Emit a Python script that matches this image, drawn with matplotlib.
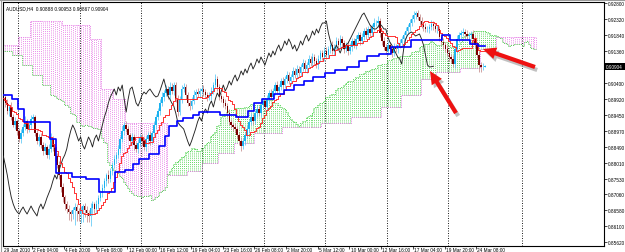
import numpy as np
import pandas as pd
import matplotlib
matplotlib.use("Agg")
import matplotlib.pyplot as plt
from matplotlib.patches import FancyArrow, Rectangle

# ---------------- data (prices in pips, 1 pip = 0.0001) ----------------
title_text = "AUDUSD,H4  0.90888 0.90953 0.90867 0.90904"
last_close = 0.90904

date_labels = ["29 Jan 2010", "2 Feb 04:00", "4 Feb 20:00", "9 Feb 08:00", "12 Feb 00:00",
               "16 Feb 12:00", "19 Feb 04:00", "23 Feb 16:00", "26 Feb 08:00", "2 Mar 20:00",
               "5 Mar 12:00", "10 Mar 00:00", "12 Mar 16:00", "17 Mar 04:00", "19 Mar 20:00",
               "24 Mar 08:00"]
date_label_bars = [0, 15, 31, 47, 63, 79, 95, 111, 127, 143, 159, 175, 191, 207, 223, 239]
grid_bars = [7.5, 38.5, 69.5, 100.5, 131.5, 162.5, 193.5, 224.5, 261.5]

price_ticks = [0.92800, 0.92320, 0.91840, 0.91360, 0.90880, 0.90400, 0.89920, 0.89450,
               0.88970, 0.88490, 0.88010, 0.87530, 0.87060, 0.86580, 0.86100, 0.85620]
hidden_tick = 0.90880  # covered by the current-price box

first_open = 8992
close_pips = [
    8998, 8980, 8956, 8968, 8938, 8914, 8926, 8896, 8872, 8890,
    8908, 8926, 8902, 8914, 8932, 8938, 8890, 8866, 8878, 8854,
    8836, 8848, 8824, 8842, 8872, 8848, 8821, 8794, 8764, 8728,
    8698, 8677, 8662, 8653, 8647, 8659, 8668, 8656, 8647, 8659,
    8671, 8659, 8650, 8641, 8665, 8677, 8662, 8677, 8695, 8710,
    8725, 8746, 8764, 8752, 8776, 8794, 8812, 8824, 8842, 8872,
    8896, 8914, 8902, 8884, 8866, 8878, 8854, 8842, 8860, 8878,
    8866, 8848, 8872, 8884, 8866, 8890, 8914, 8938, 8956, 8980,
    8998, 9010, 9022, 9004, 9028, 9016, 9034, 8992, 8953, 8992,
    9022, 9028, 9004, 8980, 8971, 8986, 9004, 9013, 9007, 9016,
    9022, 9013, 9004, 8998, 9001, 9016, 9034, 9052, 9028, 9001,
    8992, 8980, 8971, 8950, 8923, 8914, 8908, 8902, 8884, 8866,
    8851, 8866, 8884, 8902, 8923, 8938, 8926, 8950, 8962, 8950,
    8974, 8986, 8968, 8992, 9010, 8998, 9016, 9034, 9016, 9028,
    9046, 9034, 9052, 9064, 9046, 9058, 9076, 9064, 9082, 9070,
    9088, 9100, 9082, 9094, 9112, 9100, 9118, 9106, 9094, 9112,
    9130, 9118, 9136, 9124, 9142, 9154, 9136, 9148, 9166, 9154,
    9172, 9160, 9142, 9154, 9136, 9148, 9166, 9154, 9172, 9184,
    9166, 9178, 9196, 9184, 9202, 9190, 9208, 9220, 9220, 9226,
    9190, 9166, 9148, 9136, 9154, 9142, 9130, 9148, 9142, 9154,
    9160, 9172, 9184, 9196, 9208, 9220, 9232, 9244, 9250, 9238,
    9226, 9214, 9208, 9202, 9202, 9208, 9217, 9211, 9202, 9202,
    9178, 9163, 9154, 9142, 9130, 9118, 9112, 9097, 9142, 9172,
    9184, 9190, 9193, 9187, 9181, 9184, 9187, 9172, 9154, 9124,
    9094, 9088, 9088.8, 9090.4]

upper_wick_pips = [
    10, 8, 12, 6, 14, 9, 11, 7, 10, 12, 8, 14, 6, 10, 12, 9, 7, 11, 8, 13,
    9, 12, 7, 15, 18, 8, 10, 9, 12, 8, 11, 7, 9, 13, 6, 10, 12, 8, 9, 11,
    7, 10, 12, 8, 14, 9, 6, 11, 10, 8, 12, 9, 7, 14, 10, 8, 11, 9, 13, 10,
    14, 8, 11, 9, 7, 12, 10, 8, 13, 9, 10, 12, 8, 9, 11, 7, 13, 10, 9, 12,
    14, 10, 12, 8, 15, 11, 9, 10, 12, 8, 11, 13, 9, 10, 8, 12, 14, 9, 11, 10,
    8, 12, 10, 9, 13, 11, 10, 14, 9, 8, 10, 9, 12, 8, 11, 10, 7, 12, 9, 10,
    11, 8, 10, 13, 9, 12, 10, 8, 11, 9, 12, 10, 9, 11, 8, 13, 10, 9, 12, 8,
    10, 11, 9, 12, 8, 10, 13, 9, 11, 10, 9, 12, 10, 8, 11, 9, 13, 10, 8, 12,
    10, 9, 11, 13, 8, 10, 12, 9, 11, 10, 12, 8, 10, 9, 13, 11, 8, 10, 12, 9,
    10, 12, 9, 11, 8, 12, 10, 14, 9, 15, 9, 10, 12, 8, 11, 10, 9, 13, 8, 10,
    11, 9, 10, 12, 9, 13, 11, 12, 6, 9, 10, 12, 8, 11, 9, 10, 12, 8, 9, 11,
    10, 9, 12, 8, 11, 10, 9, 12, 10, 11, 9, 10, 12, 8, 11, 10, 9, 12, 8, 10,
    11, 9, 10, 4.9]

lower_wick_pips = [
    9, 12, 8, 14, 10, 7, 13, 11, 9, 12, 10, 8, 13, 9, 11, 12, 8, 10, 14, 9,
    12, 10, 8, 13, 9, 11, 14, 10, 12, 15, 14, 18, 12, 25, 20, 16, 45, 30, 22, 28,
    35, 20, 26, 18, 30, 22, 15, 12, 14, 10, 12, 9, 14, 11, 10, 13, 9, 12, 10, 11,
    9, 12, 10, 13, 11, 9, 14, 10, 12, 9, 11, 10, 13, 9, 12, 10, 8, 11, 9, 12,
    10, 12, 9, 11, 13, 10, 12, 9, 11, 10, 12, 9, 11, 10, 13, 9, 10, 12, 8, 11,
    10, 12, 9, 11, 10, 13, 9, 10, 12, 11, 9, 11, 10, 12, 9, 10, 13, 11, 10, 12,
    14, 10, 12, 9, 11, 10, 12, 9, 11, 10, 12, 10, 9, 11, 13, 10, 9, 12, 10, 11,
    10, 12, 9, 11, 10, 12, 9, 10, 11, 13, 9, 11, 10, 12, 9, 10, 13, 11, 10, 12,
    10, 9, 12, 11, 10, 13, 9, 11, 10, 12, 11, 10, 12, 9, 11, 10, 13, 9, 11, 10,
    12, 10, 9, 11, 10, 12, 9, 11, 10, 12, 11, 13, 10, 9, 12, 10, 11, 9, 10, 12,
    10, 12, 9, 11, 10, 12, 10, 9, 11, 10, 12, 10, 11, 9, 10, 12, 9, 11, 10, 12,
    11, 10, 12, 9, 10, 11, 12, 10, 13, 11, 10, 12, 9, 11, 10, 12, 10, 11, 9, 10,
    22, 14, 10, 2.1]

# Kijun-sen: (start bar, level in pips)
kijun_steps = [(0, 9004), (5, 8992), (8, 8962), (11, 8923), (24, 8872), (27, 8770),
               (35, 8758), (42, 8752), (49, 8713), (57, 8773), (62, 8779), (66, 8797),
               (69, 8812), (74, 8827), (79, 8851), (82, 8881), (84, 8911), (88, 8926),
               (91, 8935), (96, 8944), (99, 8953), (110, 8944), (118, 8938), (124, 8956),
               (127, 8980), (131, 8992), (137, 9007), (142, 9019), (147, 9034),
               (152, 9046), (157, 9058), (163, 9070), (168, 9079), (174, 9088),
               (180, 9106), (184, 9121), (190, 9127), (196, 9148), (206, 9169),
               (222, 9184), (226, 9169), (236, 9157), (240, 9151)]

# Senkou span A before the first bar that has 26 bars of history on screen
senkou_a_early_steps = [(0, 9136), (5, 9124), (10, 9094), (15, 9064), (20, 9034), (24, 9004)]
# Senkou span B (displaced 26 bars forward)
senkou_b_steps = [(0, 9154), (8, 9178), (14, 9226), (30, 9214), (44, 9172), (50, 9022),
                  (56, 8992), (62, 8920), (83, 8764), (93, 8776), (101, 8800), (109, 8830),
                  (117, 8860), (127, 8890), (141, 8908), (161, 8920), (176, 8938),
                  (191, 8968), (201, 9004), (211, 9052), (219, 9073), (231, 9085),
                  (241, 9142), (249, 9178)]
shift = 26

# ---------------- derived series ----------------
close = np.array(close_pips, dtype=float) / 1e4
opens = np.r_[first_open / 1e4, close[:-1]]
high = np.maximum(opens, close) + np.array(upper_wick_pips) / 1e4
low = np.minimum(opens, close) - np.array(lower_wick_pips) / 1e4
n = len(close)
bars = np.arange(n)
cloud_end_bar = n - 1 + shift


def expand(steps, end):
    out = np.empty(end + 1)
    for k, (s, v) in enumerate(steps):
        e = steps[k + 1][0] if k + 1 < len(steps) else end + 1
        out[s:e] = v / 1e4
    return out


hs, ls = pd.Series(high), pd.Series(low)
tenkan = ((hs.rolling(9, min_periods=1).max() + ls.rolling(9, min_periods=1).min()) / 2).values
kijun = expand(kijun_steps, n - 1)

span_a = np.empty(cloud_end_bar + 1)
span_a[:shift] = expand(senkou_a_early_steps, shift - 1)
span_a[shift:] = (tenkan + kijun) / 2
span_b = expand(senkou_b_steps, cloud_end_bar)
cb = np.arange(cloud_end_bar + 1)

# ---------------- figure ----------------
W, H = 625, 253
fig = plt.figure(figsize=(W / 100, H / 100), dpi=100)
fig.patch.set_facecolor("white")
ax = fig.add_axes([3 / W, 6 / H, 601 / W, 244 / H])
ax.set_facecolor("white")
ax.set_xlim(-0.15, 303.07)
ax.set_ylim(0.8551, 0.9283)

fam = ["Liberation Sans", "DejaVu Sans"]
fs = 3.4

# vertical dotted grid
for g in grid_bars:
    ax.axvline(g, color="#000000", lw=0.6, ls=(0, (1.2, 1.8)), zorder=0.5)

# cloud as dotted histogram
up = span_a >= span_b
ax.vlines(cb[up], span_b[up], span_a[up], colors="#33CC33", lw=0.55,
          linestyles=(0, (1.2, 1.6)), zorder=1)
ax.vlines(cb[~up], span_a[~up], span_b[~up], colors="#E266E2", lw=0.55,
          linestyles=(0, (1.2, 1.6)), zorder=1)
ax.step(cb, span_a, where="mid", color="#33CC33", lw=0.6, ls=(0, (1, 1.2)), zorder=1.2)
ax.step(cb, span_b, where="mid", color="#E266E2", lw=0.6, ls=(0, (1, 1.2)), zorder=1.2)

# candles
bull = close >= opens
ax.vlines(bars[bull], low[bull], high[bull], colors="#5BC8F5", lw=0.55, zorder=2)
ax.vlines(bars[~bull], low[~bull], high[~bull], colors="#C48A8A", lw=0.55, zorder=2)
body_lo = np.minimum(opens, close)
body_h = np.maximum(np.abs(close - opens), 0.00012)
ax.bar(bars[bull], body_h[bull], bottom=body_lo[bull], width=0.75,
       color="#1AB2F0", linewidth=0, zorder=2.5)
ax.bar(bars[~bull], body_h[~bull], bottom=body_lo[~bull], width=0.75,
       color="#7A0000", linewidth=0, zorder=2.5)

# Ichimoku lines
ax.plot(bars[shift:] - shift, close[shift:], color="#222222", lw=0.65, zorder=3)
ax.step(bars, tenkan, where="mid", color="#FF2222", lw=0.65, zorder=3.2)
ax.step(bars, kijun, where="mid", color="#0000FF", lw=1.2, zorder=3.4)

# axes styling
for s in ax.spines.values():
    s.set_color("#000000")
    s.set_linewidth(0.8)
ax.yaxis.tick_right()
ax.set_yticks(price_ticks)
ax.set_yticklabels(["" if p == hidden_tick else f"{p:.5f}" for p in price_ticks],
                   fontsize=fs, fontfamily=fam)
ax.tick_params(axis="y", length=2, width=0.5, pad=0.8, colors="#000000")
ax.set_xticks([b - 0.4 for b in date_label_bars[1:]])
ax.set_xticklabels([])
ax.tick_params(axis="x", length=2, width=0.5, direction="out")
for lab, b in zip(date_labels, date_label_bars):
    ax.text(b + 0.2, -0.006, lab, transform=ax.get_xaxis_transform(), fontsize=fs,
            fontfamily=fam, ha="left", va="top", color="#000000", clip_on=False)
ax.text(1.2, 0.9265, title_text, fontsize=fs, fontfamily=fam, ha="left", va="center",
        color="#000000", zorder=5)

# ---------------- overlay in pixel coordinates ----------------
ov = fig.add_axes([0, 0, 1, 1])
ov.set_xlim(0, W)
ov.set_ylim(H, 0)
ov.axis("off")
ov.patch.set_alpha(0)

ov.plot([0.5, 0.5], [0, H], color="#9A9A9A", lw=0.8)
ov.plot([0, W], [0.5, 0.5], color="#9A9A9A", lw=0.8)

py = 3 + (0.9283 - last_close) / (0.9283 - 0.8551) * 244
ov.add_patch(Rectangle((604.5, py - 3.4), 20.5, 6.8, facecolor="#000000", edgecolor="none", zorder=6))
ov.text(606, py, f"{last_close:.5f}", color="white", fontsize=fs, fontfamily=fam,
        ha="left", va="center", zorder=7)

arrows = [((456, 114), (430, 72)), ((535, 68), (483, 50))]
for (tx, ty), (hx, hy) in arrows:
    for off, col, al in [((2.2, 3.0), "#777777", 0.45), ((0, 0), "#EE1111", 1.0)]:
        ov.add_patch(FancyArrow(tx + off[0], ty + off[1], hx - tx, hy - ty, width=4.2,
                                head_width=12, head_length=13, length_includes_head=True,
                                color=col, alpha=al, linewidth=0, zorder=8))

fig.savefig("out.png", dpi=100, facecolor="white")
